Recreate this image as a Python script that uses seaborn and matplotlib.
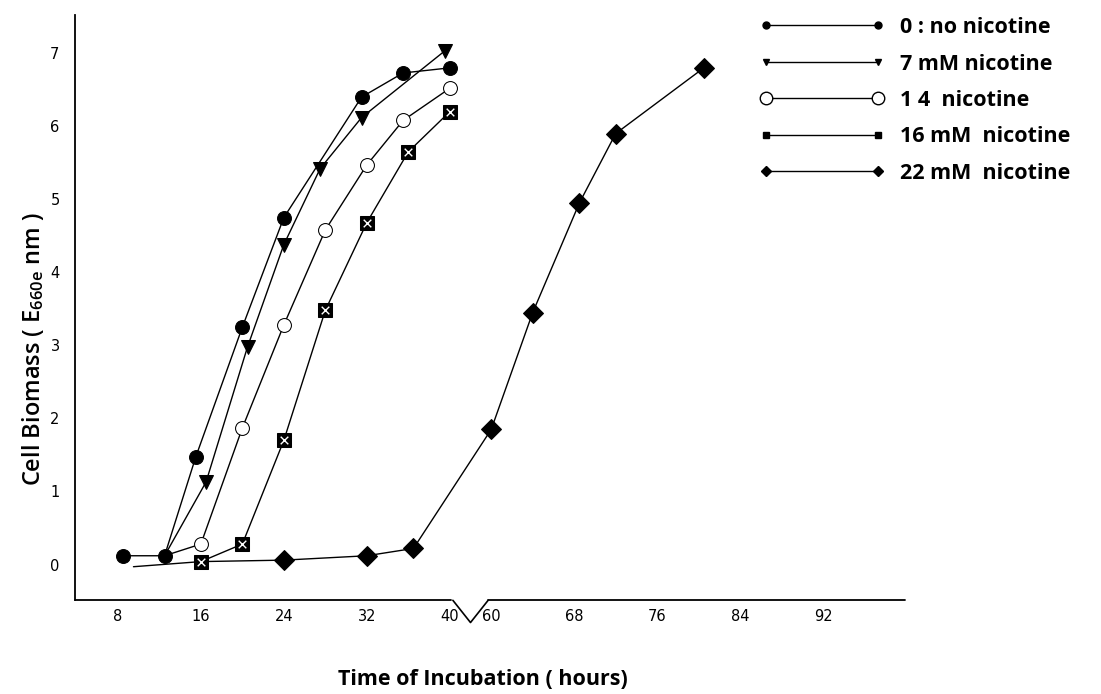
import numpy as np
import matplotlib
matplotlib.use("Agg")
import matplotlib.pyplot as plt
import seaborn as sns
from matplotlib.lines import Line2D

# values (hours, E660)
t_ctrl = [8.5, 12.5, 15.5, 20, 24, 31.5, 35.5, 40]
v_ctrl = [0.12, 0.12, 1.47, 3.25, 4.75, 6.4, 6.73, 6.8]
t_7mm = [12.5, 16.5, 20.5, 24, 27.5, 31.5, 39.5]
v_7mm = [0.12, 1.13, 2.98, 4.38, 5.42, 6.12, 7.03]
t_14mm = [12.5, 16, 20, 24, 28, 32, 35.5, 40]
v_14mm = [0.12, 0.28, 1.87, 3.28, 4.58, 5.47, 6.08, 6.52]
t_16mm = [16, 20, 24, 28, 32, 36, 40]
v_16mm = [0.04, 0.28, 1.7, 3.48, 4.68, 5.65, 6.2]
t_22mm = [9.5, 16, 24, 32, 36.5, 60, 64, 68.5, 72, 80.5]
v_22mm = [-0.03, 0.04, 0.06, 0.12, 0.22, 1.85, 3.45, 4.95, 5.9, 6.8]

x_ticks = [8, 16, 24, 32, 40, 60, 68, 76, 84, 92]
y_ticks = [0, 1, 2, 3, 4, 5, 6, 7]
labels = ["0 : no nicotine", "7 mM nicotine", "1 4  nicotine",
          "16 mM  nicotine", "22 mM  nicotine"]

BREAK_LO, BREAK_HI = 40, 60


def fwd(t):
    # squeeze the 40-60 h gap of the broken axis
    t = np.asarray(t, dtype=float)
    return np.where(t <= BREAK_LO, t,
                    np.where(t >= BREAK_HI, t - 16, BREAK_LO + (t - BREAK_LO) / 5))


def inv(p):
    p = np.asarray(p, dtype=float)
    return np.where(p <= BREAK_LO, p,
                    np.where(p >= BREAK_LO + 4, p + 16, BREAK_LO + (p - BREAK_LO) * 5))


sns.set_style("white")
plt.rcParams["font.family"] = ["Open Sans", "DejaVu Sans"]
plt.rcParams["mathtext.default"] = "regular"
plt.rcParams["text.color"] = "black"
plt.rcParams["axes.labelcolor"] = "black"

fig = plt.figure(figsize=(11.01, 6.94), dpi=100)
ax = fig.add_axes([0.068, 0.135, 0.754, 0.843])
ax.set_xscale("function", functions=(fwd, inv))

line_kw = dict(color="black", linewidth=1.0, markeredgecolor="black")
sns.lineplot(x=t_ctrl, y=v_ctrl, ax=ax, marker="o", markersize=10, **line_kw)
sns.lineplot(x=t_7mm, y=v_7mm, ax=ax, marker="v", markersize=10,
             markevery=list(range(1, len(t_7mm))), **line_kw)
sns.lineplot(x=t_14mm, y=v_14mm, ax=ax, marker="o", markersize=10,
             markerfacecolor="white", markevery=list(range(1, len(t_14mm))), **line_kw)
sns.lineplot(x=t_16mm, y=v_16mm, ax=ax, marker="s", markersize=10, **line_kw)
ax.scatter(t_16mm, v_16mm, marker="x", s=30, color="white", linewidths=1.0, zorder=5)
sns.lineplot(x=t_22mm, y=v_22mm, ax=ax, marker="D", markersize=10,
             markevery=list(range(2, len(t_22mm))), **line_kw)

ax.set_xlim(3.85, 99.9)
ax.set_ylim(-0.49, 7.52)
ax.set_xticks(x_ticks)
ax.set_xticklabels([str(v) for v in x_ticks])
ax.set_yticks(y_ticks)
ax.minorticks_off()

for side in ["top", "right", "bottom"]:
    ax.spines[side].set_visible(False)
ax.spines["left"].set_linewidth(1.3)
ax.spines["left"].set_color("black")

# bottom axis line with the "V" break between 40 and 60 h
xt = ax.get_xaxis_transform()
ax.plot([3.85, 40.8], [0, 0], color="black", lw=1.3, transform=xt, clip_on=False)
ax.plot([58.5, 99.9], [0, 0], color="black", lw=1.3, transform=xt, clip_on=False)
ax.plot([41.5, 50, 58.5], [0, -0.038, 0], color="black", lw=1.2, transform=xt, clip_on=False)

ax.tick_params(axis="x", direction="in", length=5, width=1.2, labelsize=10.5, pad=6,
               colors="black")
ax.tick_params(axis="y", direction="out", length=8, width=1.2, labelsize=10.5, pad=3,
               colors="black")
for lab in ax.get_xticklabels() + ax.get_yticklabels():
    lab.set_family("DejaVu Sans")

ax.set_xlabel("Time of Incubation ( hours)", fontsize=15.5, fontweight="bold")
ax.xaxis.set_label_coords(0.492, -0.118)
ax.set_ylabel("Cell Biomass ( E$_{660e}$ nm )", fontsize=17, fontweight="semibold")
ax.yaxis.set_label_coords(-0.035, 0.43)

handles = [
    Line2D([], [], color="black", lw=1, marker="o", ms=5),
    Line2D([], [], color="black", lw=1, marker="v", ms=5),
    Line2D([], [], color="black", lw=1, marker="o", ms=9, mfc="white", mec="black"),
    Line2D([], [], color="black", lw=1, marker="s", ms=5),
    Line2D([], [], color="black", lw=1, marker="D", ms=5),
]
leg = fig.legend(handles, labels, loc="upper left", bbox_to_anchor=(760 / 1101, 1 - 17 / 694),
                 frameon=False, numpoints=2, handlelength=5.8, handletextpad=0.7,
                 labelspacing=0.72, borderpad=0, borderaxespad=0,
                 prop=dict(family=["Open Sans", "DejaVu Sans"], weight="bold", size=15.5))

fig.savefig("out.png", dpi=100, facecolor="white")
